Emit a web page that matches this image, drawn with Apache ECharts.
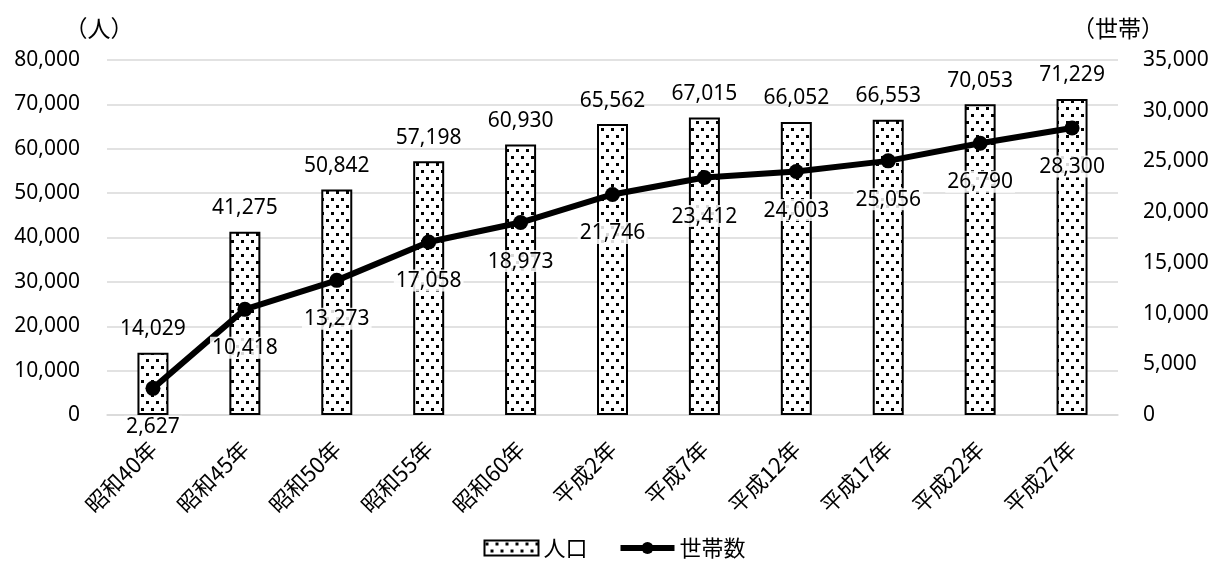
<!DOCTYPE html>
<html>
<head>
<meta charset="utf-8">
<script src="https://cdn.jsdelivr.net/npm/echarts@6/dist/echarts.min.js"></script>
<style>
  html, body { margin: 0; padding: 0; background: #fff; }
  #chart { width: 1229px; height: 572px; }
</style>
</head>
<body>
<div id="chart"></div>
<script>
// 年次区分
const categories = ['昭和40年', '昭和45年', '昭和50年', '昭和55年', '昭和60年', '平成2年', '平成7年', '平成12年', '平成17年', '平成22年', '平成27年'];
// 人口（人）
const population = [14029, 41275, 50842, 57198, 60930, 65562, 67015, 66052, 66553, 70053, 71229];
// 世帯数（世帯）
const households = [2627, 10418, 13273, 17058, 18973, 21746, 23412, 24003, 25056, 26790, 28300];
// 目盛
const leftAxisMax = 80000, leftAxisStep = 10000;
const rightAxisMax = 35000, rightAxisStep = 5000;

const numFont = '"Noto Sans", "Noto Sans CJK JP", sans-serif';
const jpFont = '"Noto Sans CJK JP", "Noto Sans", sans-serif';

// 点描の塗りつぶしパターン
function dotPattern() {
  const c = document.createElement('canvas');
  c.width = 10; c.height = 14;
  const g = c.getContext('2d');
  g.fillStyle = '#fff';
  g.fillRect(0, 0, 10, 14);
  g.fillStyle = '#000';
  g.fillRect(1, 2, 3, 3);
  g.fillRect(6, 9, 3, 3);
  return c;
}
const dots = { image: dotPattern(), repeat: 'repeat' };

const fmt = v => v.toLocaleString('en-US');

const chart = echarts.init(document.getElementById('chart'), null, { renderer: 'canvas' });
chart.setOption({
  animation: false,
  backgroundColor: '#fff',
  title: {
    text: '人口・世帯数の推移',
    left: 'center',
    top: -25,
    textStyle: { fontFamily: jpFont, fontSize: 20, fontWeight: 'normal', color: '#000' }
  },
  grid: { left: 107, right: 111, top: 60, bottom: 157, containLabel: false },
  legend: {
    bottom: 8,
    left: 'center',
    itemWidth: 54,
    itemHeight: 15,
    itemGap: 30,
    textStyle: { fontFamily: jpFont, fontSize: 22, color: '#000' },
    data: [
      { name: '人口', icon: 'rect', itemStyle: { borderColor: '#000', borderWidth: 2 } },
      { name: '世帯数', lineStyle: { width: 6, color: '#000' } }
    ]
  },
  xAxis: {
    type: 'category',
    data: categories,
    axisLine: { show: true, lineStyle: { color: '#d9d9d9', width: 1.5 } },
    axisTick: { show: false },
    axisLabel: {
      rotate: 45,
      interval: 0,
      margin: 30,
      color: '#000',
      fontFamily: jpFont,
      fontSize: 22
    }
  },
  yAxis: [
    {
      type: 'value',
      min: 0,
      max: leftAxisMax,
      interval: leftAxisStep,
      name: '（人）',
      nameLocation: 'end',
      nameGap: 20,
      nameTextStyle: { fontFamily: jpFont, fontSize: 23, color: '#000', padding: [0, 16, 0, 0] },
      axisLine: { show: false },
      axisTick: { show: false },
      splitLine: { lineStyle: { color: '#d9d9d9', width: 1.5 } },
      axisLabel: { margin: 27, color: '#000', fontFamily: numFont, fontSize: 21, formatter: fmt }
    },
    {
      type: 'value',
      min: 0,
      max: rightAxisMax,
      interval: rightAxisStep,
      name: '（世帯）',
      nameLocation: 'end',
      nameGap: 20,
      nameTextStyle: { fontFamily: jpFont, fontSize: 23, color: '#000', padding: [0, 0, 0, 0] },
      axisLine: { show: false },
      axisTick: { show: false },
      splitLine: { show: false },
      axisLabel: { margin: 25, color: '#000', fontFamily: numFont, fontSize: 21, formatter: fmt }
    }
  ],
  series: [
    {
      name: '人口',
      type: 'bar',
      yAxisIndex: 0,
      data: population,
      barWidth: 31,
      itemStyle: { color: dots, borderColor: '#000', borderWidth: 2 },
      label: {
        show: true,
        position: 'top',
        distance: 13,
        color: '#000',
        fontFamily: numFont,
        fontSize: 21,
        formatter: p => fmt(p.value)
      },
      z: 2
    },
    {
      name: '世帯数',
      type: 'line',
      yAxisIndex: 1,
      data: households,
      symbol: 'circle',
      symbolSize: 15,
      lineStyle: { color: '#000', width: 6 },
      itemStyle: { color: '#000' },
      label: {
        show: true,
        position: 'bottom',
        distance: 20,
        color: '#000',
        fontFamily: numFont,
        fontSize: 21,
        backgroundColor: 'rgba(255,255,255,0.85)',
        padding: [1, 2, 0, 2],
        formatter: p => fmt(p.value)
      },
      z: 3
    }
  ]
});
</script>
</body>
</html>
